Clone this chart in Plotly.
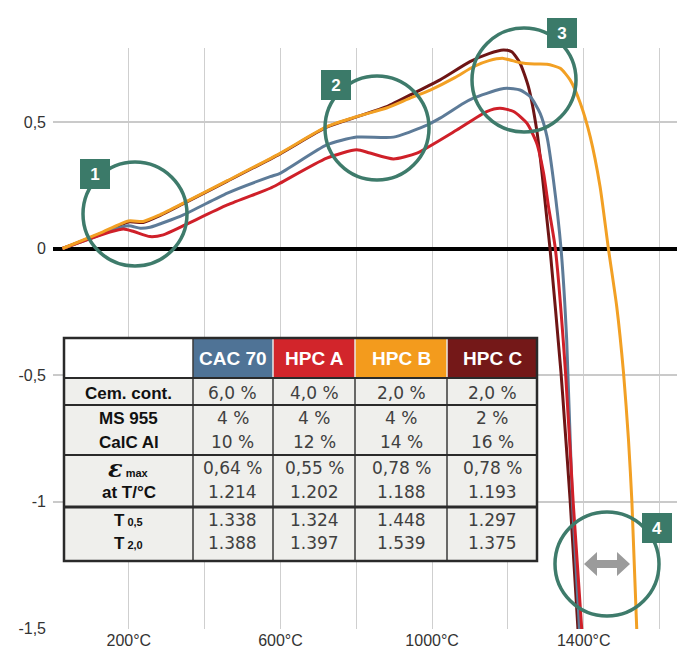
import plotly.graph_objects as go

# ---------------- data ----------------
series_names = ["HPC C", "CAC 70", "HPC A", "HPC B"]   # drawing order
series_colors = ["#6e1515", "#5d7b98", "#cf2029", "#f2a024"]

hpc_c_t = [25, 124, 199, 238, 282, 344, 460, 599, 722, 801, 880, 960, 1021, 1100, 1150, 1188, 1210, 1232, 1254, 1276, 1289, 1303, 1311, 1340, 1349, 1364, 1385]
hpc_c_v = [0.0, 0.058, 0.105, 0.103, 0.130, 0.177, 0.266, 0.374, 0.479, 0.520, 0.560, 0.620, 0.666, 0.738, 0.770, 0.784, 0.777, 0.732, 0.639, 0.468, 0.311, 0.113, 0.0, -0.49, -0.676, -0.992, -1.51]

cac70_t = [25, 100, 150, 199, 230, 256, 344, 460, 573, 599, 722, 801, 898, 977, 1021, 1083, 1109, 1179, 1197, 1232, 1259, 1285, 1303, 1320, 1340, 1355, 1370, 1389]
cac70_v = [0.0, 0.040, 0.070, 0.090, 0.080, 0.084, 0.133, 0.219, 0.284, 0.297, 0.409, 0.440, 0.440, 0.481, 0.515, 0.574, 0.594, 0.629, 0.633, 0.626, 0.600, 0.534, 0.442, 0.271, 0.0, -0.36, -1.0, -1.51]

hpc_a_t = [25, 100, 150, 186, 213, 256, 291, 344, 460, 573, 599, 722, 801, 836, 898, 960, 1065, 1144, 1179, 1215, 1250, 1276, 1294, 1307, 1325, 1352, 1372, 1395]
hpc_a_v = [0.0, 0.040, 0.065, 0.077, 0.067, 0.047, 0.054, 0.090, 0.172, 0.238, 0.258, 0.357, 0.390, 0.377, 0.354, 0.377, 0.468, 0.541, 0.554, 0.541, 0.495, 0.416, 0.298, 0.166, 0.0, -0.49, -1.0, -1.51]

hpc_b_t = [25, 124, 199, 238, 282, 344, 460, 599, 722, 801, 880, 942, 995, 1060, 1109, 1150, 1188, 1232, 1270, 1303, 1338, 1364, 1391, 1417, 1443, 1465, 1487, 1505, 1518, 1527, 1540]
hpc_b_v = [0.0, 0.061, 0.109, 0.107, 0.133, 0.179, 0.268, 0.376, 0.481, 0.521, 0.555, 0.594, 0.626, 0.675, 0.718, 0.742, 0.751, 0.734, 0.729, 0.728, 0.712, 0.666, 0.574, 0.442, 0.245, 0.0, -0.229, -0.492, -0.755, -1.0, -1.51]

series_t = [hpc_c_t, cac70_t, hpc_a_t, hpc_b_t]
series_v = [hpc_c_v, cac70_v, hpc_a_v, hpc_b_v]

x_tickvals = [0, 200, 400, 600, 800, 1000, 1200, 1400, 1600]
x_ticktext = ["", "200°C", "", "600°C", "", "1000°C", "", "1400°C", ""]
y_tickvals = [-1.5, -1, -0.5, 0, 0.5]
y_ticktext = ["-1,5", "-1", "-0,5", "0", "0,5"]

# table content
table_columns = ["CAC 70", "HPC A", "HPC B", "HPC C"]
header_colors = ["#4f7396", "#d2252b", "#f39b1d", "#741818"]
row_labels = ["Cem. cont.", "MS 955", "CalC Al",
              "<span style='font-family:DejaVu Serif;font-size:24px'><i>ε</i></span><span style='font-size:11px'> max</span>",
              "at T/°C",
              "T<span style='font-size:11px'> 0,5</span>",
              "T<span style='font-size:11px'> 2,0</span>"]
cem_cont = ["6,0 %", "4,0 %", "2,0 %", "2,0 %"]
ms955 = ["4 %", "4 %", "4 %", "2 %"]
calc_al = ["10 %", "12 %", "14 %", "16 %"]
eps_max = ["0,64 %", "0,55 %", "0,78 %", "0,78 %"]
t_eps = ["1.214", "1.202", "1.188", "1.193"]
t_05 = ["1.338", "1.324", "1.448", "1.297"]
t_20 = ["1.388", "1.397", "1.539", "1.375"]
table_rows = [cem_cont, ms955, calc_al, eps_max, t_eps, t_05, t_20]

callout_labels = ["1", "2", "3", "4"]

# ---------------- layout geometry (pixels) ----------------
W, H = 688, 670
ML, MR, MT, MB = 53, 11, 48, 41
PW, PH = W - ML - MR, H - MT - MB


def px(x):
    return (x - ML) / PW


def py(y):
    return (MT + PH - y) / PH


fig = go.Figure()
for name, t, v, c in zip(series_names, series_t, series_v, series_colors):
    fig.add_trace(go.Scatter(x=t, y=v, name=name, mode="lines",
                             line=dict(color=c, width=3, shape="spline", smoothing=0.6),
                             hoverinfo="skip"))

shapes = []
annotations = []

# callout circles
circle_centers = [(135, 214), (377, 128), (524, 80), (607, 564)]
for cx, cy in circle_centers:
    shapes.append(dict(type="circle", xref="paper", yref="paper",
                       xsizemode="pixel", ysizemode="pixel",
                       xanchor=px(cx), yanchor=py(cy),
                       x0=-52, x1=52, y0=-52, y1=52,
                       line=dict(color="#3e7b6b", width=3.5), layer="above"))

# double arrow in circle 4
shapes.append(dict(type="path", xref="paper", yref="paper",
                   xsizemode="pixel", ysizemode="pixel",
                   xanchor=px(607), yanchor=py(564),
                   path="M -23,0 L -10,12 L -10,4 L 10,4 L 10,12 L 23,0 L 10,-12 L 10,-4 L -10,-4 L -10,-12 Z",
                   fillcolor="#9b9b9b", line=dict(width=0), layer="above"))

# callout number boxes
box_centers = [(95, 174), (336, 85), (562, 33), (657, 528)]
for lab, (bx, by) in zip(callout_labels, box_centers):
    annotations.append(dict(text="<b>" + lab + "</b>", xref="paper", yref="paper",
                            x=px(bx), y=py(by), xanchor="center", yanchor="middle",
                            showarrow=False, width=30, height=30, borderpad=0, borderwidth=0,
                            bgcolor="#3b7a69", font=dict(color="white", size=17, family="Liberation Sans")))

# ---------------- table ----------------
col_edges = [64, 193, 273, 355, 447, 537]
row_edges = [338, 378, 405, 455, 507, 561]

shapes.append(dict(type="rect", xref="paper", yref="paper",
                   x0=px(col_edges[0]), x1=px(col_edges[-1]), y0=py(row_edges[-1]), y1=py(row_edges[0]),
                   fillcolor="#efefec", line=dict(width=0), layer="above"))
shapes.append(dict(type="rect", xref="paper", yref="paper",
                   x0=px(col_edges[0]), x1=px(col_edges[1]), y0=py(row_edges[1]), y1=py(row_edges[0]),
                   fillcolor="#ffffff", line=dict(width=0), layer="above"))
for i, hc in enumerate(header_colors):
    shapes.append(dict(type="rect", xref="paper", yref="paper",
                       x0=px(col_edges[i + 1]), x1=px(col_edges[i + 2]), y0=py(row_edges[1]), y1=py(row_edges[0]),
                       fillcolor=hc, line=dict(width=0), layer="above"))
for i, xe in enumerate(col_edges[1:-1]):
    shapes.append(dict(type="line", xref="paper", yref="paper",
                       x0=px(xe), x1=px(xe), y0=py(row_edges[-1]), y1=py(row_edges[1]),
                       line=dict(color="#3a3a3a", width=1.5), layer="above"))
    if i > 0:
        shapes.append(dict(type="line", xref="paper", yref="paper",
                           x0=px(xe), x1=px(xe), y0=py(row_edges[1]), y1=py(row_edges[0]),
                           line=dict(color="#e8e8e8", width=1.5), layer="above"))
shapes.append(dict(type="line", xref="paper", yref="paper",
                   x0=px(col_edges[1]), x1=px(col_edges[1]), y0=py(row_edges[1]), y1=py(row_edges[0]),
                   line=dict(color="#3a3a3a", width=1.5), layer="above"))
for j, ye in enumerate(row_edges[1:-1]):
    shapes.append(dict(type="line", xref="paper", yref="paper",
                       x0=px(col_edges[0]), x1=px(col_edges[-1]), y0=py(ye), y1=py(ye),
                       line=dict(color="#2a2a2a", width=3 if j == 3 else 2), layer="above"))
shapes.append(dict(type="rect", xref="paper", yref="paper",
                   x0=px(col_edges[0]), x1=px(col_edges[-1]), y0=py(row_edges[-1]), y1=py(row_edges[0]),
                   fillcolor="rgba(0,0,0,0)", line=dict(color="#2a2a2a", width=2.5), layer="above"))

col_centers = [(col_edges[i] + col_edges[i + 1]) / 2 for i in range(5)]
header_y = 358
line_ys = [393, 418, 442, 468, 492, 520, 543]

for i, name in enumerate(table_columns):
    annotations.append(dict(text="<b>" + name + "</b>", xref="paper", yref="paper",
                            x=px(col_centers[i + 1]), y=py(header_y), xanchor="center", yanchor="middle",
                            showarrow=False, font=dict(color="white", size=19, family="Liberation Sans")))
for r, (lab, vals) in enumerate(zip(row_labels, table_rows)):
    annotations.append(dict(text="<b>" + lab + "</b>", xref="paper", yref="paper",
                            x=px(col_centers[0]), y=py(line_ys[r]), xanchor="center", yanchor="middle",
                            showarrow=False, font=dict(color="#111111", size=17, family="Liberation Sans")))
    for i, val in enumerate(vals):
        annotations.append(dict(text=val, xref="paper", yref="paper",
                                x=px(col_centers[i + 1]), y=py(line_ys[r]), xanchor="center", yanchor="middle",
                                showarrow=False, font=dict(color="#404040", size=17, family="DejaVu Sans")))

fig.update_layout(
    width=W, height=H,
    margin=dict(l=ML, r=MR, t=MT, b=MB, pad=0),
    paper_bgcolor="white", plot_bgcolor="white",
    showlegend=False,
    shapes=shapes, annotations=annotations,
    xaxis=dict(range=[0, 1646], tickvals=x_tickvals, ticktext=x_ticktext,
               showgrid=True, gridcolor="#cfcfcf", gridwidth=1, zeroline=False, showline=False,
               ticks="", tickfont=dict(size=16, color="#333333", family="Liberation Sans")),
    yaxis=dict(range=[-1.503, 0.792], tickvals=y_tickvals, ticktext=y_ticktext,
               showgrid=True, gridcolor="#cacaca", gridwidth=2,
               zeroline=True, zerolinecolor="#000000", zerolinewidth=3.5, showline=False,
               ticks="", ticklabelstandoff=6,
               tickfont=dict(size=16, color="#333333", family="Liberation Sans")),
)

fig.write_html("out.html")
